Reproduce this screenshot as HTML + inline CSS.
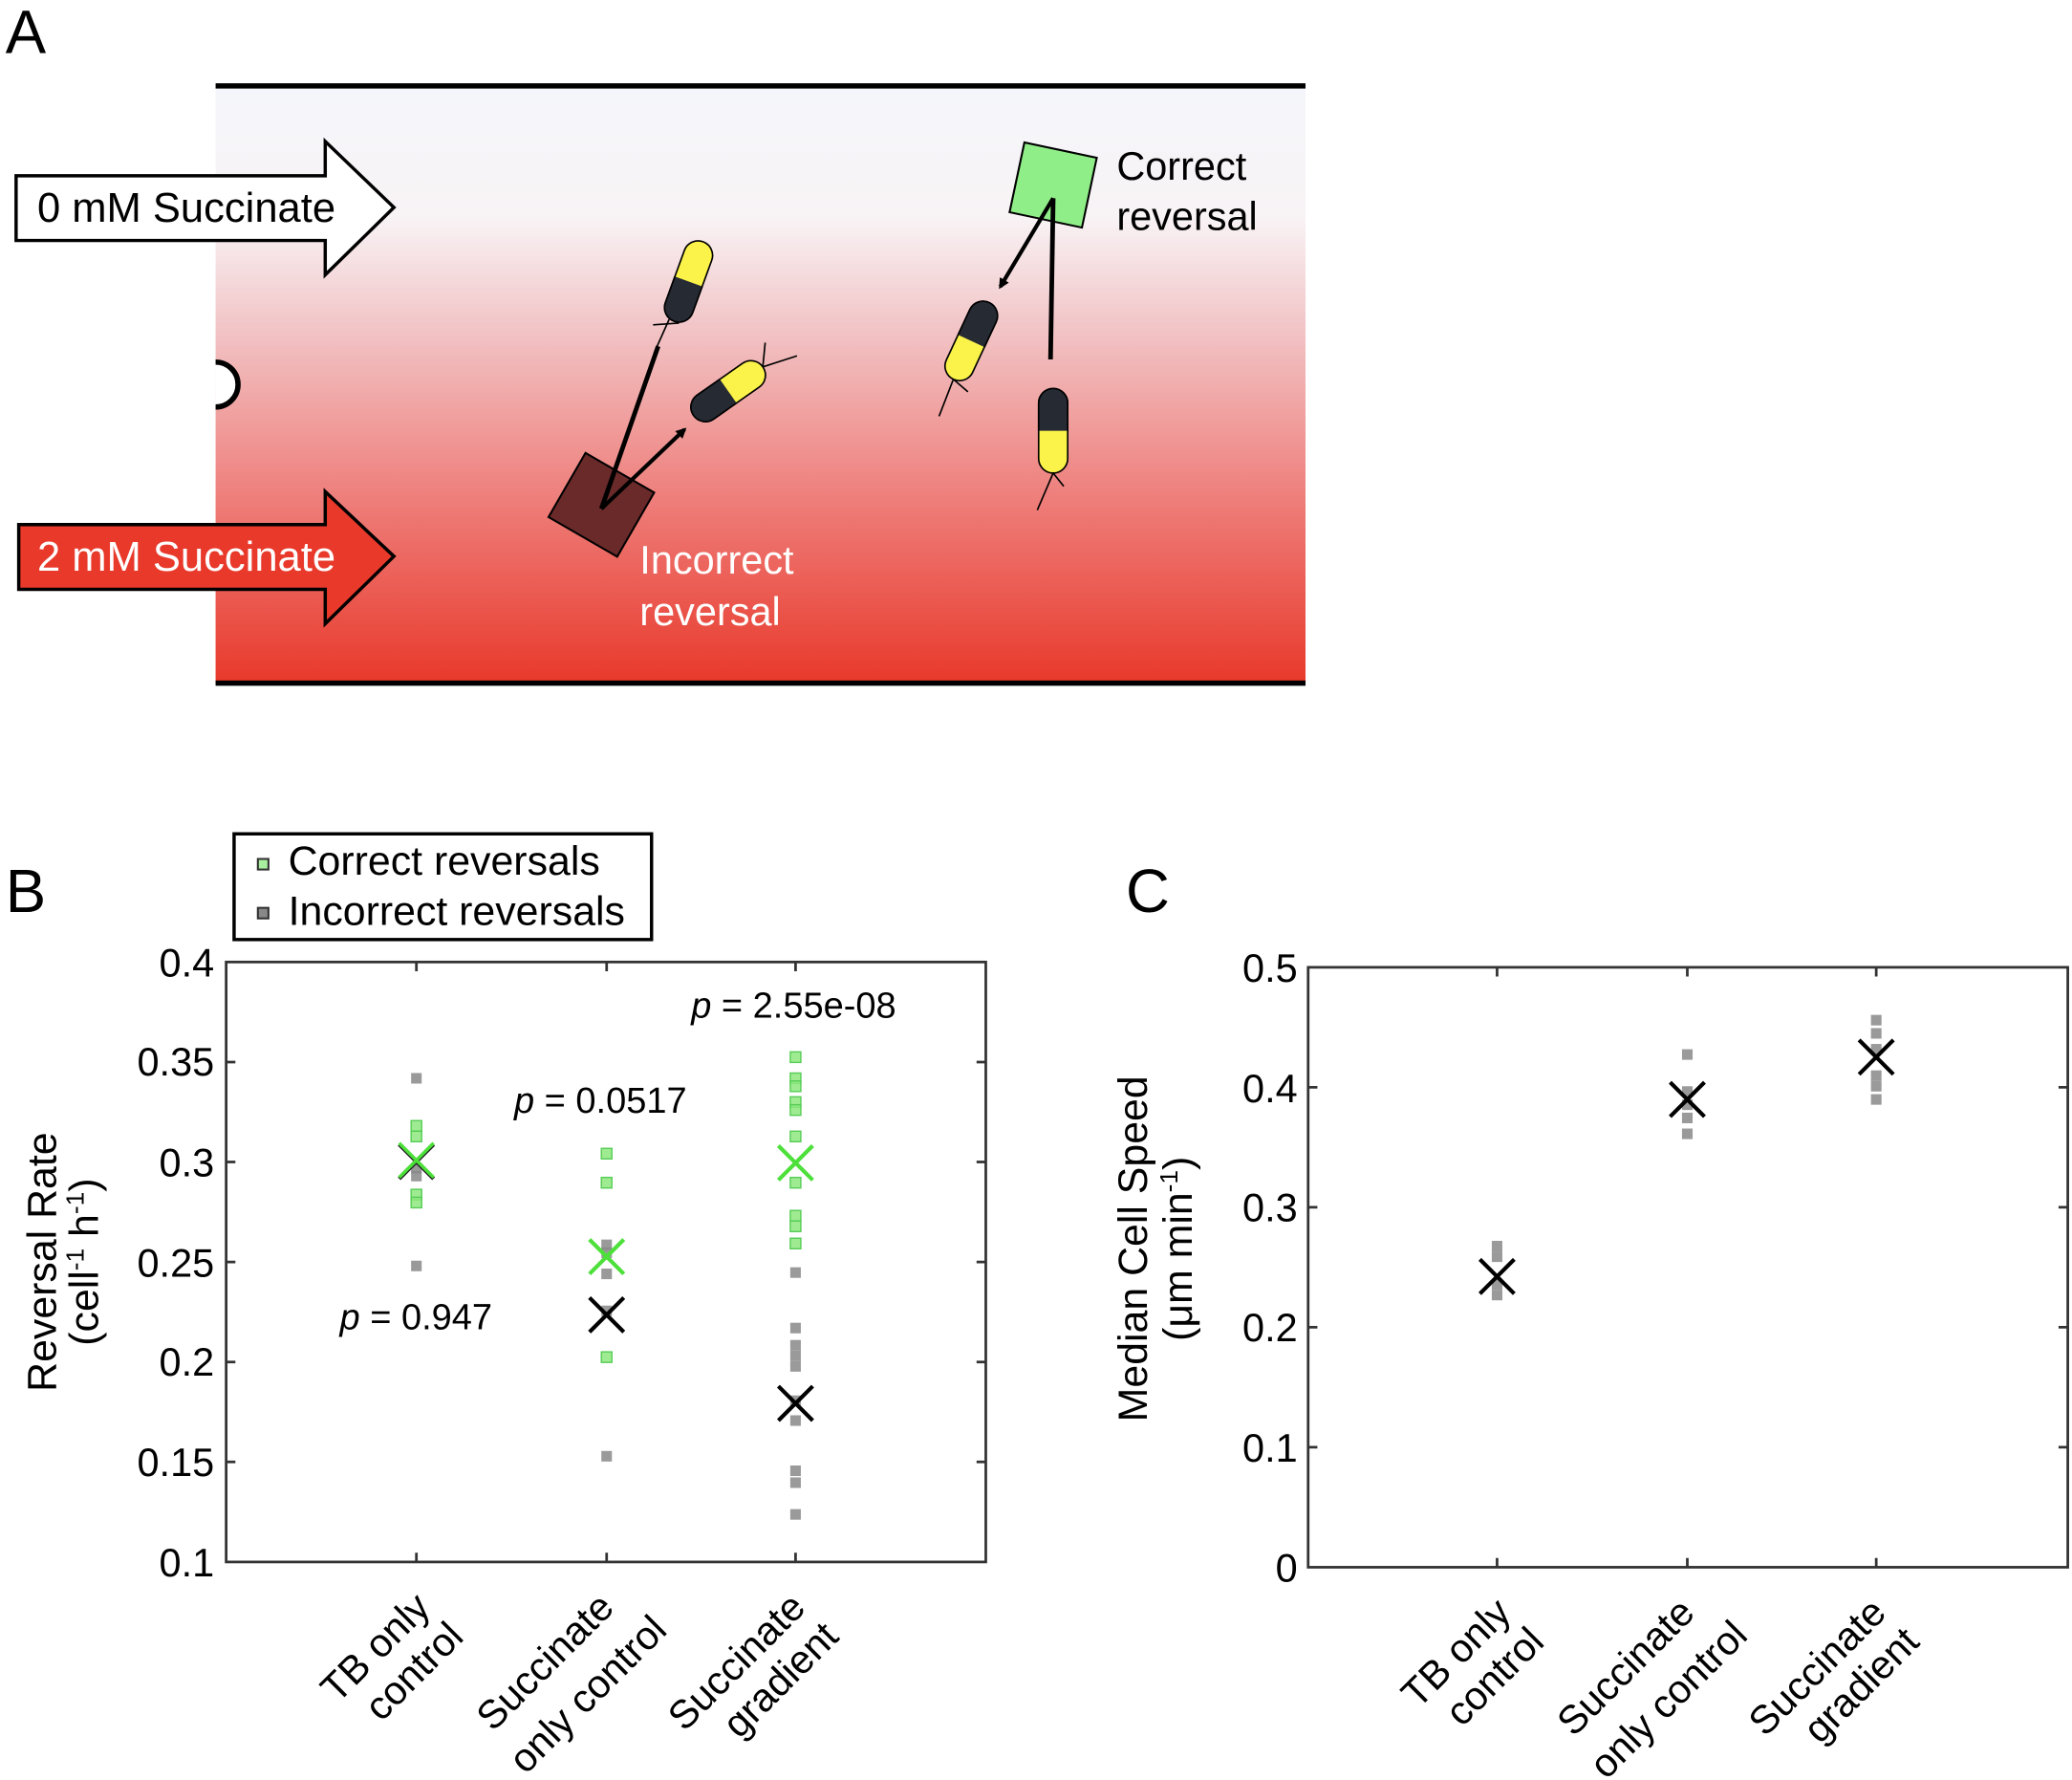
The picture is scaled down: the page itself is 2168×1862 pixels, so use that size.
<!DOCTYPE html>
<html><head><meta charset="utf-8"><style>html,body{margin:0;padding:0;background:#fff}svg{display:block}</style></head>
<body>
<svg width="2168" height="1862" viewBox="0 0 1568 1347" xmlns="http://www.w3.org/2000/svg" font-family="Liberation Sans, sans-serif">
<defs>
<linearGradient id="g" x1="0" y1="0" x2="0" y2="1">
<stop offset="0" stop-color="#f5f6fb"/>
<stop offset="0.22" stop-color="#f8f3f5"/>
<stop offset="0.4" stop-color="#f2c6c8"/>
<stop offset="0.7" stop-color="#ee7c78"/>
<stop offset="1" stop-color="#e8392b"/>
</linearGradient>
<clipPath id="lo" clipPathUnits="userSpaceOnUse"><rect x="-20" y="0" width="40" height="40"/></clipPath>
<marker id="ah" markerWidth="8" markerHeight="8" refX="6" refY="4" orient="auto" markerUnits="userSpaceOnUse"><path d="M0,0 L8,4 L0,8 Z" fill="#000"/></marker>
</defs>
<rect width="1568" height="1347" fill="#fff"/>
<text x="4" y="40" font-size="46">A</text>
<rect x="163" y="65" width="825" height="452" fill="url(#g)"/>
<line x1="163" y1="65" x2="988" y2="65" stroke="#000" stroke-width="4"/>
<line x1="163" y1="517" x2="988" y2="517" stroke="#000" stroke-width="4"/>
<path d="M163,274 A17,17 0 0 1 163,308" fill="#fff" stroke="#000" stroke-width="4"/>
<path d="M12,133 L246,133 L246,107 L298,157 L246,208 L246,182 L12,182 Z" fill="#fff" stroke="#000" stroke-width="2.5"/>
<text x="28" y="168" font-size="31.5">0 mM Succinate</text>
<path d="M14,397 L246,397 L246,372 L298,421 L246,472 L246,446 L14,446 Z" fill="#e8392b" stroke="#000" stroke-width="2.5"/>
<text x="28" y="432" font-size="31.5" fill="#fff">2 mM Succinate</text>
<rect x="-30" y="-28" width="60" height="56" fill="#6b2a2a" stroke="#000" stroke-width="1.5" transform="translate(455,382) rotate(30)"/>
<rect x="-28" y="-27" width="56" height="54" fill="#90ee88" stroke="#000" stroke-width="1.5" transform="translate(797,140) rotate(12)"/>
<line x1="455" y1="385" x2="498" y2="262" stroke="#000" stroke-width="3.5"/>
<line x1="455" y1="385" x2="518" y2="325" stroke="#000" stroke-width="3" marker-end="url(#ah)"/>
<line x1="797" y1="150" x2="757" y2="217" stroke="#000" stroke-width="3" marker-end="url(#ah)"/>
<line x1="797" y1="150" x2="795" y2="272" stroke="#000" stroke-width="3.5"/>
<g stroke="#000" stroke-width="1.2">
<g transform="translate(521,213) rotate(20)"><rect x="-11" y="-32" width="22" height="64" rx="11" fill="#fbf34a"/><rect x="-11" y="-32" width="22" height="64" rx="11" fill="#262a33" clip-path="url(#lo)"/><line x1="-4" y1="32" x2="-6" y2="60"/><line x1="4" y1="32" x2="-14" y2="40"/></g>
<g transform="translate(551,296) rotate(55)"><rect x="-11" y="-32" width="22" height="64" rx="11" fill="#fbf34a"/><rect x="-11" y="-32" width="22" height="64" rx="11" fill="#262a33" clip-path="url(#lo)"/><line x1="0" y1="-32" x2="8" y2="-58"/><line x1="0" y1="-32" x2="-14" y2="-44"/></g>
<g transform="translate(735,258) rotate(-155)"><rect x="-11" y="-32" width="22" height="64" rx="11" fill="#fbf34a"/><rect x="-11" y="-32" width="22" height="64" rx="11" fill="#262a33" clip-path="url(#lo)"/><line x1="0" y1="-32" x2="-2" y2="-62"/><line x1="0" y1="-32" x2="-14" y2="-36"/></g>
<g transform="translate(797,326) rotate(180)"><rect x="-11" y="-32" width="22" height="64" rx="11" fill="#fbf34a"/><rect x="-11" y="-32" width="22" height="64" rx="11" fill="#262a33" clip-path="url(#lo)"/><line x1="0" y1="-32" x2="12" y2="-60"/><line x1="0" y1="-32" x2="-8" y2="-42"/></g>
</g>
<text x="845" y="136" font-size="30">Correct</text>
<text x="845" y="174" font-size="30">reversal</text>
<text x="484" y="434" font-size="30" fill="#fff">Incorrect</text>
<text x="484" y="473" font-size="30" fill="#fff">reversal</text>

<text x="4" y="690" font-size="46">B</text>
<text x="852" y="690" font-size="46">C</text>
<rect x="177" y="631" width="316" height="80" fill="#fff" stroke="#000" stroke-width="2.5"/>
<rect x="195" y="650" width="8" height="8" fill="#a8f0a0" stroke="#333" stroke-width="1.5"/>
<rect x="195" y="687" width="8" height="8" fill="#888" stroke="#333" stroke-width="1.5"/>
<text x="218" y="662" font-size="31">Correct reversals</text>
<text x="218" y="700" font-size="31">Incorrect reversals</text>

<g stroke="#333" stroke-width="2" fill="none">
<rect x="171" y="728" width="575" height="454"/>
<rect x="990" y="732" width="575" height="454"/>
</g>
<g stroke="#333" stroke-width="2">
<path d="M171,803.7h7M171,879.3h7M171,955h7M171,1030.7h7M171,1106.3h7M746,803.7h-7M746,879.3h-7M746,955h-7M746,1030.7h-7M746,1106.3h-7M315,728v7M459,728v7M602,728v7M315,1182v-7M459,1182v-7M602,1182v-7"/>
<path d="M990,822.8h7M990,913.6h7M990,1004.4h7M990,1095.2h7M1565,822.8h-7M1565,913.6h-7M1565,1004.4h-7M1565,1095.2h-7M1133,732v7M1277,732v7M1420,732v7M1133,1186v-7M1277,1186v-7M1420,1186v-7"/>
</g>
<g font-size="30" text-anchor="end">
<text x="162" y="739">0.4</text><text x="162" y="814">0.35</text><text x="162" y="890">0.3</text><text x="162" y="966">0.25</text><text x="162" y="1041">0.2</text><text x="162" y="1117">0.15</text><text x="162" y="1193">0.1</text>
<text x="982" y="743">0.5</text><text x="982" y="834">0.4</text><text x="982" y="924">0.3</text><text x="982" y="1015">0.2</text><text x="982" y="1106">0.1</text><text x="982" y="1197">0</text>
</g>
<g font-size="31" text-anchor="middle">
<text transform="translate(42,955) rotate(-90)">Reversal Rate</text>
<text transform="translate(74,955) rotate(-90)">(cell<tspan font-size="19" dy="-11">-1</tspan><tspan dy="11"> h</tspan><tspan font-size="19" dy="-11">-1</tspan><tspan dy="11">)</tspan></text>
<text transform="translate(868,945) rotate(-90)">Median Cell Speed</text>
<text transform="translate(902,945) rotate(-90)">(μm min<tspan font-size="19" dy="-11">-1</tspan><tspan dy="11">)</tspan></text>
</g>
<g font-size="30" text-anchor="end">
<text transform="translate(327,1218) rotate(-45)">TB only</text>
<text transform="translate(352,1240) rotate(-45)">control</text>
<text transform="translate(466,1218) rotate(-45)">Succinate</text>
<text transform="translate(506,1235) rotate(-45)">only control</text>
<text transform="translate(611,1218) rotate(-45)">Succinate</text>
<text transform="translate(636,1240) rotate(-45)">gradient</text>
<text transform="translate(1145,1222) rotate(-45)">TB only</text>
<text transform="translate(1170,1244) rotate(-45)">control</text>
<text transform="translate(1284,1222) rotate(-45)">Succinate</text>
<text transform="translate(1324,1239) rotate(-45)">only control</text>
<text transform="translate(1429,1222) rotate(-45)">Succinate</text>
<text transform="translate(1454,1244) rotate(-45)">gradient</text>
</g>
<g font-size="27.5">
<text x="257" y="1006"><tspan font-style="italic">p</tspan> = 0.947</text>
<text x="389" y="842"><tspan font-style="italic">p</tspan> = 0.0517</text>
<text x="523" y="770"><tspan font-style="italic">p</tspan> = 2.55e-08</text>
</g>
<g fill="#888" fill-opacity="0.85">
<rect x="311" y="812" width="8" height="8"/><rect x="311" y="954" width="8" height="8"/><rect x="311" y="880" width="8" height="8"/><rect x="311" y="886" width="8" height="8"/>
<rect x="455" y="938" width="8" height="8"/><rect x="455" y="944" width="8" height="8"/><rect x="455" y="960" width="8" height="8"/><rect x="455" y="988" width="8" height="8"/><rect x="455" y="1098" width="8" height="8"/>
<rect x="598" y="959" width="8" height="8"/><rect x="598" y="1001" width="8" height="8"/><rect x="598" y="1014" width="8" height="8"/><rect x="598" y="1022" width="8" height="8"/><rect x="598" y="1030" width="8" height="8"/><rect x="598" y="1056" width="8" height="8"/><rect x="598" y="1071" width="8" height="8"/><rect x="598" y="1109" width="8" height="8"/><rect x="598" y="1118" width="8" height="8"/><rect x="598" y="1142" width="8" height="8"/>
<rect x="1129" y="939" width="8" height="8"/><rect x="1129" y="947" width="8" height="8"/><rect x="1129" y="968" width="8" height="8"/><rect x="1129" y="976" width="8" height="8"/>
<rect x="1273" y="794" width="8" height="8"/><rect x="1273" y="822" width="8" height="8"/><rect x="1273" y="832" width="8" height="8"/><rect x="1273" y="842" width="8" height="8"/><rect x="1273" y="854" width="8" height="8"/>
<rect x="1416" y="768" width="8" height="8"/><rect x="1416" y="778" width="8" height="8"/><rect x="1416" y="790" width="8" height="8"/><rect x="1416" y="810" width="8" height="8"/><rect x="1416" y="818" width="8" height="8"/><rect x="1416" y="828" width="8" height="8"/>
</g>
<g fill="#8ee87e" stroke="#5c5" stroke-width="1" fill-opacity="0.85">
<rect x="311" y="848" width="8" height="8"/><rect x="311" y="856" width="8" height="8"/><rect x="311" y="900" width="8" height="8"/><rect x="311" y="906" width="8" height="8"/>
<rect x="455" y="869" width="8" height="8"/><rect x="455" y="891" width="8" height="8"/><rect x="455" y="1023" width="8" height="8"/>
<rect x="598" y="796" width="8" height="8"/><rect x="598" y="812" width="8" height="8"/><rect x="598" y="818" width="8" height="8"/><rect x="598" y="830" width="8" height="8"/><rect x="598" y="836" width="8" height="8"/><rect x="598" y="856" width="8" height="8"/><rect x="598" y="891" width="8" height="8"/><rect x="598" y="916" width="8" height="8"/><rect x="598" y="924" width="8" height="8"/><rect x="598" y="937" width="8" height="8"/>
</g>
<g stroke-width="3" fill="none">
<path d="M302,866l26,26M328,866l-26,26" stroke="#222"/>
<path d="M302,865l26,26M328,865l-26,26" stroke="#4de03a" stroke-width="2.5"/>
<path d="M446,938l26,26M472,938l-26,26" stroke="#4de03a"/>
<path d="M446,982l26,26M472,982l-26,26" stroke="#000"/>
<path d="M589,867l26,26M615,867l-26,26" stroke="#4de03a"/>
<path d="M589,1049l26,26M615,1049l-26,26" stroke="#000"/>
<path d="M1120,953l26,26M1146,953l-26,26" stroke="#000"/>
<path d="M1264,819l26,26M1290,819l-26,26" stroke="#000"/>
<path d="M1407,787l26,26M1433,787l-26,26" stroke="#000"/>
</g>
</svg>
</body></html>
